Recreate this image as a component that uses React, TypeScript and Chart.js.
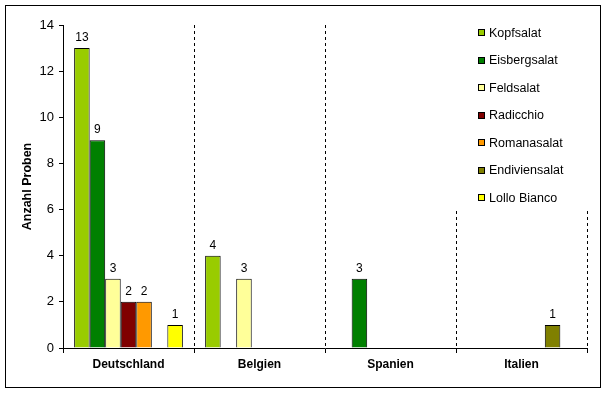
import React, { useEffect, useRef } from "react";
import { Chart, registerables } from "chart.js";

Chart.register(...registerables);

const categories = ["Deutschland", "Belgien", "Spanien", "Italien"];
const seriesNames = ["Kopfsalat", "Eisbergsalat", "Feldsalat", "Radicchio", "Romanasalat", "Endiviensalat", "Lollo Bianco"];
const seriesColors = ["#99CC00", "#008000", "#FFFF99", "#800000", "#FF9900", "#808000", "#FFFF00"];
const kopfsalat = [13, 4, null, null];
const eisbergsalat = [9, null, 3, null];
const feldsalat = [3, 3, null, null];
const radicchio = [2, null, null, null];
const romanasalat = [2, null, null, null];
const endiviensalat = [null, null, null, 1];
const lolloBianco = [1, null, null, null];
const seriesValues = [kopfsalat, eisbergsalat, feldsalat, radicchio, romanasalat, endiviensalat, lolloBianco];
const yTicks = [0, 2, 4, 6, 8, 10, 12, 14];

const FONT = "Arial, 'Liberation Sans', sans-serif";

const decorPlugin = {
  id: "decor",
  beforeDatasetsDraw(chart: any) {
    const ctx = chart.ctx;
    const x = chart.scales.x;
    const area = chart.chartArea;
    const half = (x.getPixelForValue(1) - x.getPixelForValue(0)) / 2;
    ctx.save();
    ctx.strokeStyle = "#000";
    ctx.lineWidth = 1;
    ctx.setLineDash([3, 3]);
    for (let i = 0; i < categories.length; i++) {
      const px = Math.round(x.getPixelForValue(i) + half) + 0.5;
      ctx.beginPath();
      ctx.moveTo(px, area.top);
      ctx.lineTo(px, area.bottom);
      ctx.stroke();
    }
    ctx.restore();
  },
  afterDatasetsDraw(chart: any) {
    const ctx = chart.ctx;
    ctx.save();
    ctx.fillStyle = "#000";
    ctx.font = "12px " + FONT;
    ctx.textAlign = "center";
    ctx.textBaseline = "alphabetic";
    chart.data.datasets.forEach((ds: any, di: number) => {
      const meta = chart.getDatasetMeta(di);
      meta.data.forEach((el: any, i: number) => {
        const v = ds.data[i];
        if (v === null || v === undefined) return;
        ctx.fillText(String(v), el.x, el.y - 7);
      });
    });
    ctx.restore();
  },
  afterDraw(chart: any) {
    const ctx = chart.ctx;
    ctx.save();
    // legend box (covers plot area)
    ctx.fillStyle = "#fff";
    ctx.fillRect(450, 12, 148, 196);
    ctx.font = "12.5px " + FONT;
    ctx.textBaseline = "middle";
    ctx.textAlign = "left";
    chart.data.datasets.forEach((ds: any, i: number) => {
      const cy = 33 + i * 27.5;
      ctx.fillStyle = ds.backgroundColor;
      ctx.fillRect(478.5, Math.round(cy) - 3.5, 6, 6);
      ctx.strokeStyle = "#000";
      ctx.lineWidth = 1;
      ctx.strokeRect(478.5, Math.round(cy) - 3.5, 6, 6);
      ctx.fillStyle = "#000";
      ctx.fillText(ds.label, 489, cy + 0.5);
    });
    // outer border
    ctx.strokeStyle = "#000";
    ctx.lineWidth = 1;
    ctx.strokeRect(5.5, 5.5, 595, 382);
    ctx.restore();
  },
};

export default function App() {
  const ref = useRef<HTMLCanvasElement>(null);
  useEffect(() => {
    if (!ref.current) return;
    const chart = new Chart(ref.current, {
      type: "bar",
      data: {
        labels: categories,
        datasets: seriesNames.map((name, i) => ({
          label: name,
          data: seriesValues[i],
          backgroundColor: seriesColors[i],
          borderColor: "#000",
          borderWidth: 1,
          categoryPercentage: 0.83,
          barPercentage: 1.0,
        })),
      },
      options: {
        responsive: false,
        animation: false,
        layout: { padding: { left: 0, right: 18, top: 25, bottom: 0 } },
        plugins: {
          legend: { display: false },
          tooltip: { enabled: false },
        },
        scales: {
          x: {
            grid: { display: true, drawOnChartArea: false, tickLength: 5, color: "#000", offset: true },
            border: { display: true, color: "#000", width: 1 },
            ticks: {
              color: "#000",
              font: { family: FONT, size: 12, weight: "bold" },
              padding: 4,
              maxRotation: 0,
            },
            afterFit: (s: any) => {
              s.height = 46;
            },
          },
          y: {
            min: 0,
            max: 14,
            afterBuildTicks: (s: any) => {
              s.ticks = yTicks.map((v) => ({ value: v }));
            },
            grid: { display: true, drawOnChartArea: false, tickLength: 4, color: "#000" },
            border: { display: true, color: "#000", width: 1 },
            ticks: {
              color: "#000",
              font: { family: FONT, size: 13 },
              padding: 5,
            },
            title: {
              display: true,
              text: "Anzahl Proben",
              color: "#000",
              font: { family: FONT, size: 12.5, weight: "bold" },
              padding: { top: 20.5, bottom: 0 },
            },
            afterFit: (s: any) => {
              s.width = 63;
            },
          },
        },
      },
      plugins: [decorPlugin],
    } as any);
    return () => chart.destroy();
  }, []);
  return (
    <div style={{ position: "fixed", left: 0, top: 0, width: 605, height: 394, background: "#fff" }}>
      <canvas ref={ref} width={605} height={394} />
    </div>
  );
}
